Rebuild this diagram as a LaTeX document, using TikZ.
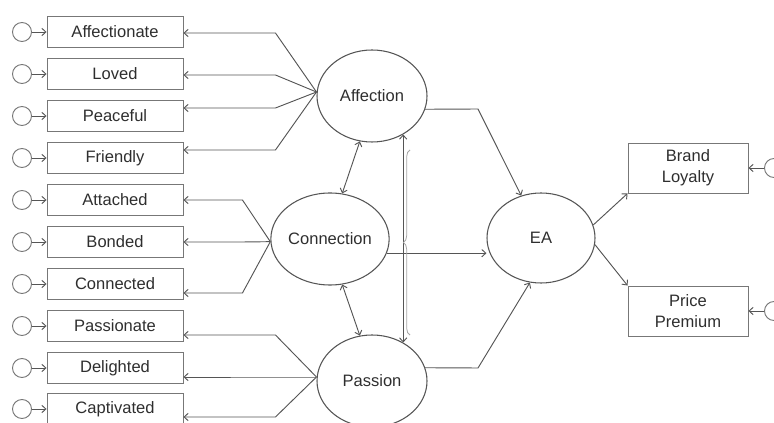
\documentclass[tikz,border=0pt]{standalone}
\usepackage{fontspec}
\setmainfont{Liberation Sans}
\usetikzlibrary{shapes.geometric,arrows.meta,decorations.pathreplacing,calc}
\definecolor{ln}{HTML}{555555}
\definecolor{bx}{HTML}{777777}
\definecolor{tx}{HTML}{2E2E2E}
\begin{document}
\begin{tikzpicture}[x=0.75pt,y=-0.75pt,
  lbl/.style={font=\fontsize{12.4}{15.75}\selectfont, text=tx},
  item/.style={lbl, draw=bx, rectangle, line width=0.7pt, minimum width=102pt, minimum height=23.25pt, inner sep=0pt},
  outbox/.style={item, minimum width=90pt, minimum height=37.5pt, align=center},
  lat/.style={lbl, draw=ln, ellipse, line width=0.8pt, minimum width=82.5pt, minimum height=69pt, inner sep=0pt},
  err/.style={draw=bx, circle, line width=0.7pt, minimum size=14.25pt, inner sep=0pt},
  arr/.style={draw=ln, line width=0.7pt, -{Straight Barb[length=3pt,width=5.5pt]}},
  dbl/.style={draw=ln, line width=0.7pt, {Straight Barb[length=3pt,width=5.5pt]}-{Straight Barb[length=3pt,width=5.5pt]}}]
\useasboundingbox (0,0) rectangle (774,423);

% latent variables
\node[lat] (aff) at (372,96) {Affection};
\node[lat, minimum width=83.25pt] (con) at (330,239) {Connection};
\node[lat] (pas) at (372,381) {Passion};
\node[lat, minimum width=81pt, minimum height=67.5pt] (ea) at (541,238) {EA};

% indicator boxes
\foreach \n/\t/\y in {i1/Affectionate/32, i2/Loved/74, i3/Peaceful/116, i4/Friendly/158,
  i5/Attached/200, i6/Bonded/242, i7/Connected/284, i8/Passionate/326,
  i9/Delighted/368, i10/Captivated/409}{
  \node[item] (\n) at (115,\y) {\t};
  \node[err] (e\n) at (22,\y) {};
  \draw[arr] (e\n.east) -- (\n.west);
}

% outcome boxes
\node[outbox] (bl) at (688,168) {Brand\\Loyalty};
\node[outbox] (pp) at (688,311) {Price\\Premium};
\node[err] (ebl) at (774,168) {};
\node[err] (epp) at (774,311) {};
\draw[arr] (ebl.west) -- (bl.east);
\draw[arr] (epp.west) -- (pp.east);

% loadings
\foreach \n/\s in {i1/-0.75pt, i2/-0.75pt, i3/6pt, i4/6pt}{
  \draw[arr] ([yshift=3pt]aff.west) -- ([xshift=69pt,yshift=\s]\n.east) -- ([yshift=\s]\n.east);
}
\foreach \n/\s in {i5/0pt, i6/0pt, i7/-6.75pt}{
  \draw[arr] ([yshift=-2pt]con.west) -- ([xshift=44.25pt,yshift=\s]\n.east) -- ([yshift=\s]\n.east);
}
\foreach \n/\s in {i8/-6.75pt, i9/-6.75pt, i10/-6pt}{
  \draw[arr] ([yshift=3pt]pas.west) -- ([xshift=69pt,yshift=\s]\n.east) -- ([yshift=\s]\n.east);
}

% structural paths
\coordinate (b1) at (478,109);
\coordinate (b2) at (478,368);
\draw[arr] (aff.-14) -- (b1) -- (ea.115);
\draw[arr] (con.-14) -- (ea.west |- con.-14);
\draw[arr] (pas.14) -- (b2) -- (ea.256);
\draw[arr] (ea.14) -- (bl.south west);
\draw[arr] (ea.-7) -- (pp.north west);

% covariances
\draw[dbl] (aff.255) -- (con.75);
\draw[dbl] (con.285) -- (pas.105);
\draw[dbl] (aff.-51) -- (aff.-51 |- pas.51);
\draw[black!35, line width=0.6pt, decorate, decoration={brace, amplitude=5pt}] (410,335) -- (410,150);
\end{tikzpicture}
\end{document}
